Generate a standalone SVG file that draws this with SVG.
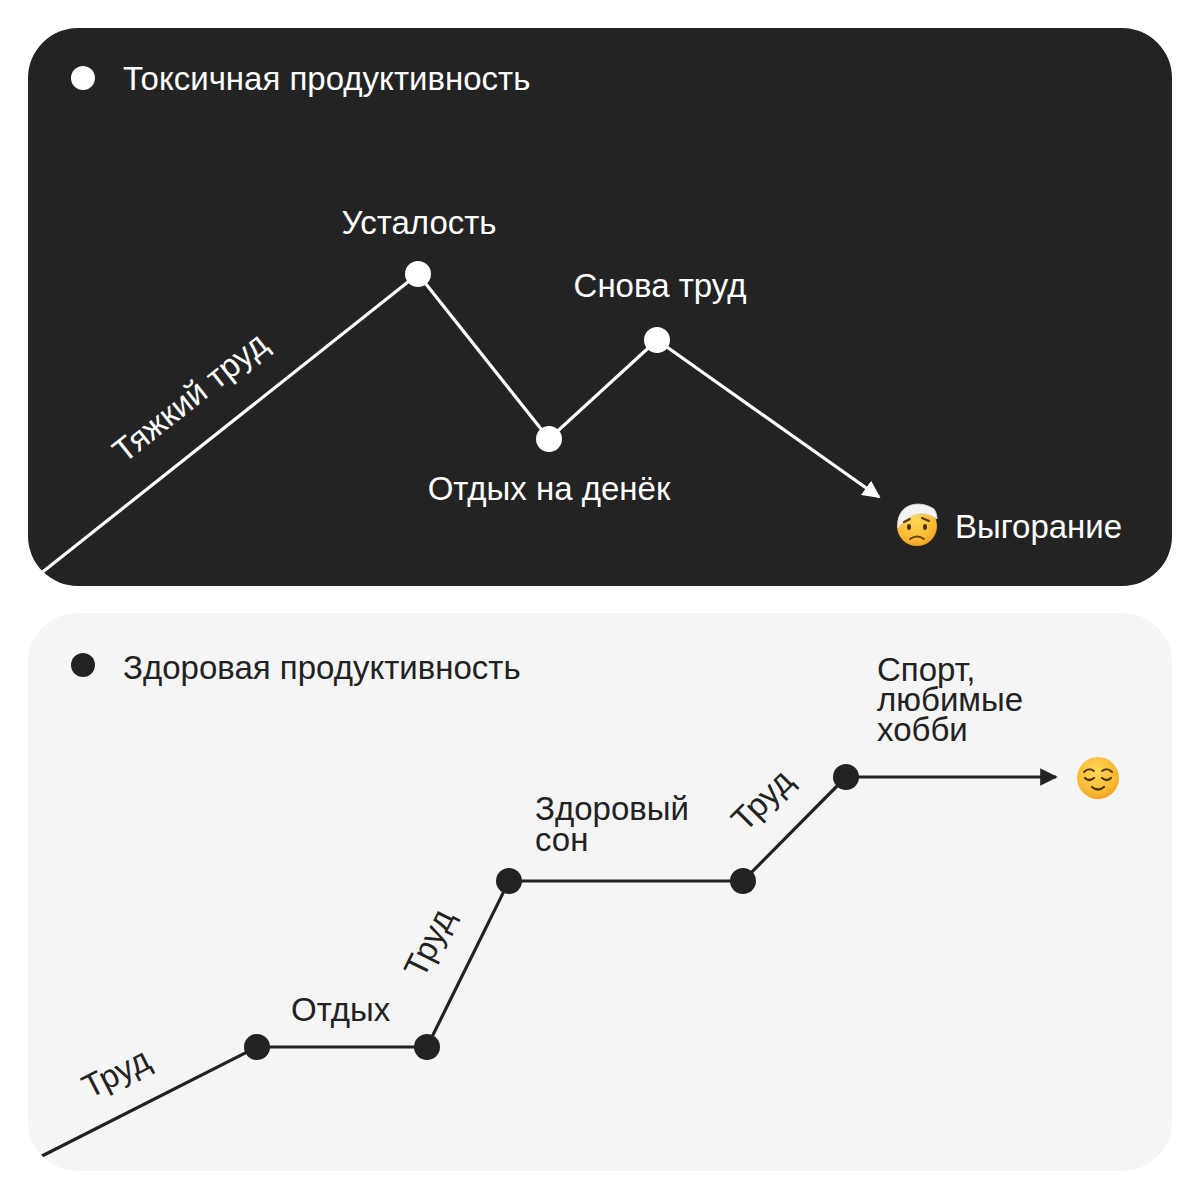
<svg xmlns="http://www.w3.org/2000/svg" width="1200" height="1200" viewBox="0 0 1200 1200">
<defs>
<style>
.t{font-family:"Liberation Sans",Arial,sans-serif;font-size:33px}
.w{fill:#ffffff}
.k{fill:#222222}
.lw{stroke:#ffffff;stroke-width:3.2;fill:none}
.lk{stroke:#222222;stroke-width:3.2;fill:none}
</style>
<marker id="aw" viewBox="0 0 10 10" refX="9" refY="5" markerWidth="5.5" markerHeight="5.5" markerUnits="strokeWidth" orient="auto">
<path d="M0,0 L10,5 L0,10 Z" fill="#ffffff"/>
</marker>
<marker id="ak" viewBox="0 0 10 10" refX="9" refY="5" markerWidth="5.5" markerHeight="5.5" markerUnits="strokeWidth" orient="auto">
<path d="M0,0 L10,5 L0,10 Z" fill="#222222"/>
</marker>
<radialGradient id="face" cx="0.45" cy="0.35" r="0.7">
<stop offset="0" stop-color="#ffd75a"/>
<stop offset="0.7" stop-color="#f9b933"/>
<stop offset="1" stop-color="#ee9a1e"/>
</radialGradient>
<clipPath id="cTop"><rect x="28" y="28" width="1144" height="558" rx="50"/></clipPath>
<clipPath id="cBot"><rect x="28" y="613" width="1144" height="558" rx="50"/></clipPath>
</defs>
<rect width="1200" height="1200" fill="#ffffff"/>

<g id="card-toxic">
<rect x="28" y="28" width="1144" height="558" rx="50" fill="#232323"/>
<circle cx="83" cy="78" r="12" fill="#ffffff"/>
<text class="t w" x="123" y="90">Токсичная продуктивность</text>
</g>

<g id="card-healthy">
<rect x="28" y="613" width="1144" height="558" rx="50" fill="#f5f5f5"/>
<circle cx="83" cy="665" r="12" fill="#222222"/>
<text class="t k" x="123" y="679">Здоровая продуктивность</text>
</g>

<g id="connectors">
<g clip-path="url(#cTop)">
<polyline class="lw" points="35,578 418,274 549,439 657,340"/>
</g>
<line class="lw" x1="657" y1="340" x2="879" y2="497" marker-end="url(#aw)"/>
<g clip-path="url(#cBot)">
<polyline class="lk" points="40,1157 257,1047 427,1047 509,881 743,881 846,777"/>
</g>
<line class="lk" x1="846" y1="777" x2="1056" y2="777" marker-end="url(#ak)"/>
</g>

<g id="label-hard-work">
<text class="t w" text-anchor="middle" transform="translate(197,406) rotate(-38.5)">Тяжкий труд</text>
</g>
<g id="node-fatigue">
<circle cx="418" cy="274" r="13" fill="#ffffff"/>
<text class="t w" x="419" y="234" text-anchor="middle">Усталость</text>
</g>
<g id="node-rest-day">
<circle cx="549" cy="439" r="13" fill="#ffffff"/>
<text class="t w" x="549" y="500" text-anchor="middle">Отдых на денёк</text>
</g>
<g id="node-work-again">
<circle cx="657" cy="340" r="13" fill="#ffffff"/>
<text class="t w" x="660" y="297" text-anchor="middle">Снова труд</text>
</g>
<g id="node-burnout">
<g id="emoji-bandage">
<circle cx="917" cy="526" r="20" fill="url(#face)"/>
<path d="M898,521 C900,505 918,499 934,509 C936,512 937,515 937,519 C925,510 910,512 898,528 Z" fill="#f4f4f4" stroke="#d8d8d8" stroke-width="1"/>
<path d="M904,522 L910,519" stroke="#5a3a10" stroke-width="2" stroke-linecap="round"/>
<path d="M922,518 L929,521" stroke="#5a3a10" stroke-width="2" stroke-linecap="round"/>
<ellipse cx="909" cy="527" rx="2" ry="3" fill="#4a2f0c"/>
<ellipse cx="925" cy="527" rx="2" ry="3" fill="#4a2f0c"/>
<path d="M910,539 Q917,534 924,539" stroke="#6a4010" stroke-width="2" fill="none" stroke-linecap="round"/>
</g>
<text class="t w" x="955" y="538">Выгорание</text>
</g>

<g id="label-work-1">
<text class="t k" text-anchor="middle" transform="translate(121,1083) rotate(-27)">Труд</text>
</g>
<g id="node-rest">
<circle cx="257" cy="1047" r="13" fill="#222222"/>
<circle cx="427" cy="1047" r="13" fill="#222222"/>
<text class="t k" x="291" y="1021">Отдых</text>
</g>
<g id="label-work-2">
<text class="t k" text-anchor="middle" transform="translate(439,948) rotate(-63.7)">Труд</text>
</g>
<g id="node-sleep">
<circle cx="509" cy="881" r="13" fill="#222222"/>
<circle cx="743" cy="881" r="13" fill="#222222"/>
<text class="t k" x="535" y="820">Здоровый</text>
<text class="t k" x="535" y="851">сон</text>
</g>
<g id="label-work-3">
<text class="t k" text-anchor="middle" transform="translate(770,808) rotate(-45)">Труд</text>
</g>
<g id="node-hobby">
<circle cx="846" cy="777" r="13" fill="#222222"/>
<text class="t k" x="877" y="681">Спорт,</text>
<text class="t k" x="877" y="711">любимые</text>
<text class="t k" x="877" y="741">хобби</text>
</g>
<g id="node-relieved">
<circle cx="1098" cy="778" r="21" fill="url(#face)"/>
<path d="M1084,772 Q1089,767 1094,771" stroke="#5a3a10" stroke-width="2" fill="none" stroke-linecap="round"/>
<path d="M1102,771 Q1107,767 1112,772" stroke="#5a3a10" stroke-width="2" fill="none" stroke-linecap="round"/>
<path d="M1085,778 Q1089,782 1094,778" stroke="#4a2f0c" stroke-width="2.2" fill="none" stroke-linecap="round"/>
<path d="M1102,778 Q1107,782 1111,778" stroke="#4a2f0c" stroke-width="2.2" fill="none" stroke-linecap="round"/>
<path d="M1092,787 Q1098,792 1104,787" stroke="#4a2f0c" stroke-width="2.2" fill="none" stroke-linecap="round"/>
</g>
</svg>
